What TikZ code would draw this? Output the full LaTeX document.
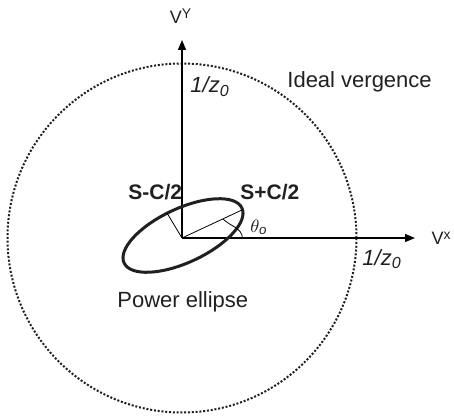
\documentclass[tikz,border=0pt]{standalone}
\usepackage{fontspec}
\setmainfont{Liberation Sans}
\usetikzlibrary{arrows.meta}
\definecolor{ink}{HTML}{231F20}
\tikzset{
  axis/.style={line width=0.65pt, -{Triangle[length=5pt,width=4pt]}},
  thin line/.style={line width=0.4pt},
  lbl/.style={inner sep=0pt, text=ink, anchor=base west},
  main/.style={font=\fontsize{11}{13}\selectfont},
  boldlbl/.style={font=\fontsize{10.5}{12}\selectfont\bfseries},
  axlbl/.style={font=\fontsize{9}{11}\selectfont},
  circ/.style={line width=1pt, dash pattern=on 1pt off 0.9pt, ink},
  ell/.style={line width=1.5pt, ink}
}
\newcommand{\zlbl}{\textit{1/z}\raisebox{-0.3ex}{\fontsize{8}{9}\selectfont\textit{0}}}
\begin{document}
\begin{tikzpicture}[x=0.5pt,y=0.5pt]
\useasboundingbox (0,0) rectangle (454,-416);
\coordinate (O) at (182,-238);
\coordinate (Ytip) at (182,-40);
\coordinate (Xtip) at (415,-238);
\coordinate (E) at (183,-235.5);
\coordinate (Maj) at (243,-209.5);
\coordinate (Min) at (167,-213);
\coordinate (A1) at (223,-219);
\coordinate (A2) at (242.5,-238);
% ideal vergence circle
\draw[circ] (O) circle[radius=174.5];
% axes
\draw[axis] (O) -- (Ytip);
\draw[axis] (O) -- (Xtip);
% ellipse
\draw[ell] (E) ellipse[x radius=65, y radius=27, rotate=25];
\draw[thin line] (O) -- (Maj);
\draw[thin line] (O) -- (Min);
\draw[thin line] (A1) to[out=-45,in=95] (A2);
% labels
\node[lbl, axlbl, anchor=base] (vy) at (180.5,-24) {V\raisebox{0.55ex}{\fontsize{7}{8}\selectfont Y}};
\node[lbl, axlbl, anchor=base] (vx) at (441,-245) {V\raisebox{0.55ex}{\fontsize{7}{8}\selectfont x}};
\node[lbl, main] (z1) at (190,-93) {\zlbl};
\node[lbl, main] (z2) at (362,-265) {\zlbl};
\node[lbl, main] (iv) at (287,-88) {Ideal vergence};
\node[lbl, boldlbl] (sm) at (128,-200) {S-C/2};
\node[lbl, boldlbl] (sp) at (240,-200) {S+C/2};
\node[lbl, font=\fontsize{9.5}{11}\selectfont] (th) at (250,-233) {$\theta_{\mathit{o}}$};
\node[lbl, main] (pe) at (117,-307) {Power ellipse};
\end{tikzpicture}
\end{document}
